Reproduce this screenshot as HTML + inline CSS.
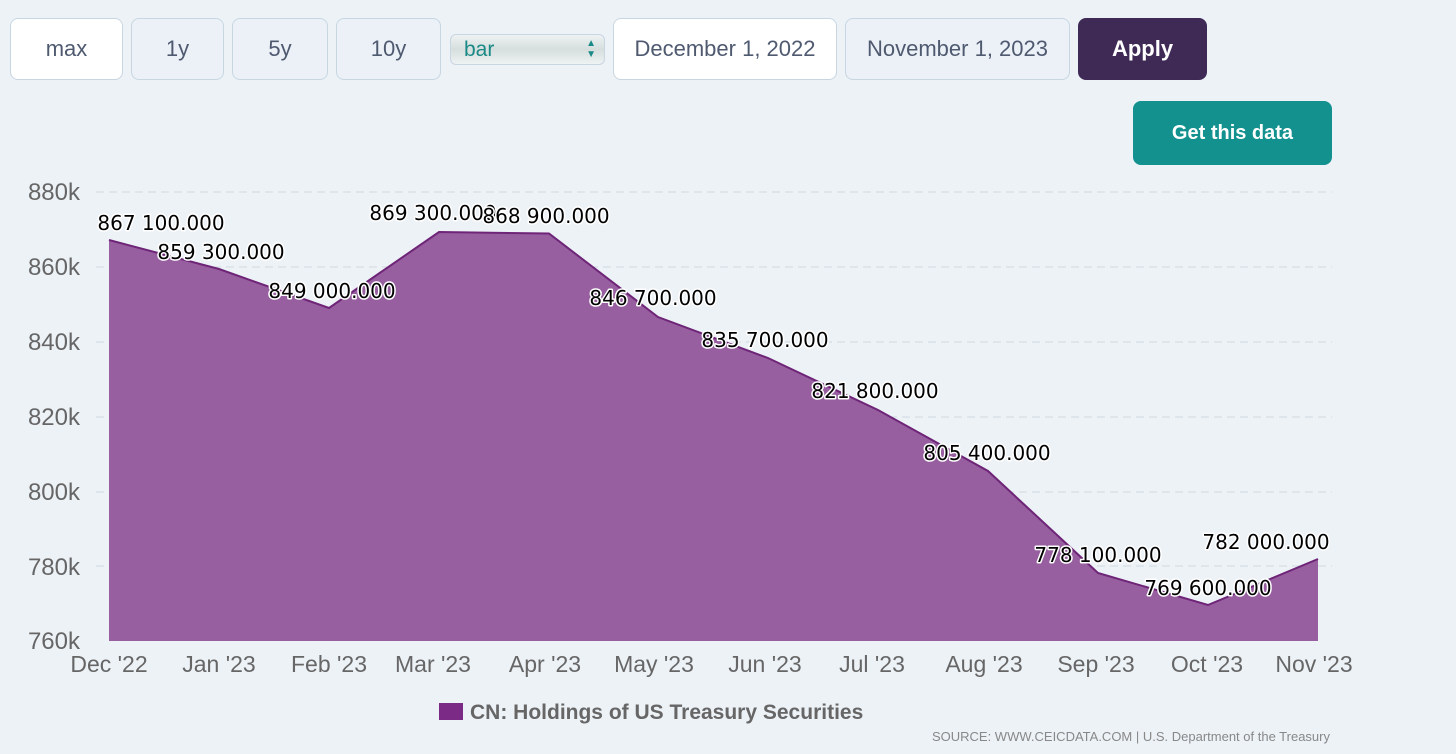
<!DOCTYPE html>
<html><head><meta charset="utf-8"><style>
html,body{margin:0;padding:0;background:#edf2f7;width:1456px;height:754px;overflow:hidden;font-family:"Liberation Sans",sans-serif}
.btn{position:absolute;top:18px;height:62px;box-sizing:border-box;border:1.5px solid #c8d6e2;border-radius:8px;background:#ebf1f6;color:#4f5a70;font-size:22px;display:flex;align-items:center;justify-content:center}
</style></head><body>
<div class="btn" style="left:10px;width:113px;background:#fff">max</div>
<div class="btn" style="left:131px;width:93px">1y</div>
<div class="btn" style="left:232px;width:96px">5y</div>
<div class="btn" style="left:336px;width:105px">10y</div>
<div class="btn" style="left:450px;top:34px;height:31px;width:155px;border-radius:6px;background:linear-gradient(#eef2f2,#d6dede,#eef2f2);justify-content:flex-start;padding-left:13px;color:#1a8a86;font-size:21px">bar<span style="position:absolute;right:8px;top:3px;font-size:10px;line-height:11px;color:#1a8a86">▲<br>▼</span></div>
<div class="btn" style="left:613px;width:224px;background:#fff">December 1, 2022</div>
<div class="btn" style="left:845px;width:225px">November 1, 2023</div>
<div class="btn" style="left:1078px;width:129px;background:#3f2a56;border-color:#3f2a56;color:#fff;font-weight:bold">Apply</div>
<div class="btn" style="left:1133px;top:101px;width:199px;height:64px;background:#12918f;border-color:#12918f;color:#fff;font-weight:bold;font-size:20px">Get this data</div>
<svg width="1456" height="754" style="position:absolute;left:0;top:0">
<g stroke="#cfd9e2" stroke-dasharray="8,5" stroke-width="1">
<line x1="96" x2="1332" y1="192" y2="192"/><line x1="96" x2="1332" y1="267" y2="267"/><line x1="96" x2="1332" y1="342" y2="342"/><line x1="96" x2="1332" y1="417" y2="417"/><line x1="96" x2="1332" y1="492" y2="492"/><line x1="96" x2="1332" y1="566" y2="566"/>
</g>
<polygon fill="#975f9f" points="109,641 109,240 219,269 329,308 439,232 549,233.5 658,317 768,358 878,410 988,471 1098,573 1208,605 1318,559 1318,641"/>
<polyline fill="none" stroke="#6e2477" stroke-width="2" points="109,240 219,269 329,308 439,232 549,233.5 658,317 768,358 878,410 988,471 1098,573 1208,605 1318,559"/>
<g font-family="Liberation Sans" font-size="24" fill="#666" text-anchor="end">
<text x="80" y="200">880k</text><text x="80" y="275">860k</text><text x="80" y="350">840k</text><text x="80" y="425">820k</text><text x="80" y="500">800k</text><text x="80" y="575">780k</text><text x="80" y="649">760k</text>
</g>
<g font-family="Liberation Sans" font-size="23" fill="#666" text-anchor="middle">
<text x="109" y="672">Dec '22</text><text x="219" y="672">Jan '23</text><text x="329" y="672">Feb '23</text><text x="433" y="672">Mar '23</text><text x="545" y="672">Apr '23</text><text x="654" y="672">May '23</text><text x="765" y="672">Jun '23</text><text x="872" y="672">Jul '23</text><text x="984" y="672">Aug '23</text><text x="1096" y="672">Sep '23</text><text x="1207" y="672">Oct '23</text><text x="1314" y="672">Nov '23</text>
</g>
<g font-family="DejaVu Sans" font-size="20" fill="#000" stroke="#fff" stroke-width="3" paint-order="stroke" stroke-linejoin="round" text-anchor="middle">
<text x="161" y="230">867 100.000</text><text x="221" y="259">859 300.000</text><text x="332" y="298">849 000.000</text><text x="433" y="220">869 300.000</text><text x="546" y="223">868 900.000</text><text x="653" y="305">846 700.000</text><text x="765" y="347">835 700.000</text><text x="875" y="398">821 800.000</text><text x="987" y="460">805 400.000</text><text x="1098" y="562">778 100.000</text><text x="1208" y="595">769 600.000</text><text x="1266" y="549">782 000.000</text>
</g>
<rect x="439" y="703" width="24" height="17" fill="#7b2b85"/>
<text x="470" y="719" font-family="Liberation Sans" font-weight="bold" font-size="21" fill="#666">CN: Holdings of US Treasury Securities</text>
<text x="1330" y="741" text-anchor="end" font-family="Liberation Sans" font-size="13" fill="#888">SOURCE: WWW.CEICDATA.COM | U.S. Department of the Treasury</text>
</svg>
</body></html>
